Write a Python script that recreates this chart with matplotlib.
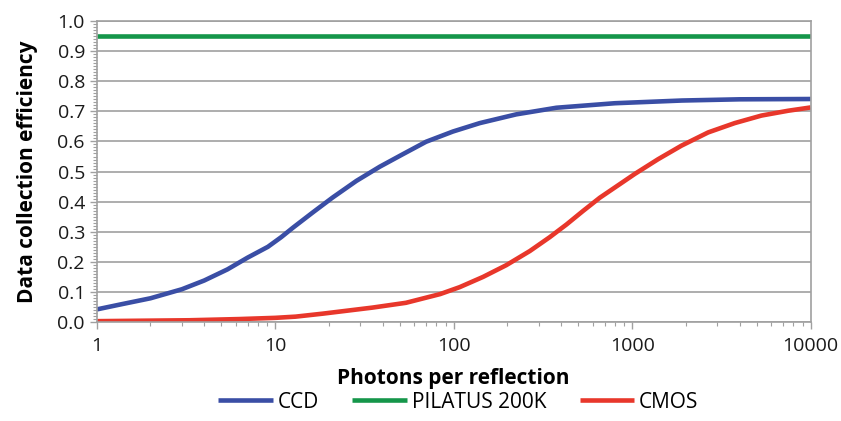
import matplotlib
matplotlib.use("Agg")
import matplotlib.pyplot as plt
from matplotlib.ticker import FixedLocator, MultipleLocator, NullFormatter

plt.rcParams['font.family'] = ['Open Sans', 'DejaVu Sans']

# values
ccd_x = [1, 1.37, 2, 3, 4, 5.4, 7, 9.1, 10.8, 12.6, 16.3, 21, 28.5, 38.5, 52,
         70, 99, 140, 224, 376, 800, 1900, 4000, 10000]
ccd_y = [0.042, 0.059, 0.079, 0.109, 0.138, 0.175, 0.214, 0.250, 0.282, 0.314,
         0.365, 0.414, 0.469, 0.516, 0.558, 0.599, 0.633, 0.661, 0.690, 0.712,
         0.727, 0.736, 0.740, 0.741]

pilatus_x = [1, 10000]
pilatus_y = [0.95, 0.95]

cmos_x = [1, 3.3, 6.3, 10, 13, 18.5, 35, 54, 84, 108, 146, 197, 267, 345, 428,
          530, 658, 851, 1033, 1396, 1887, 2663, 3752, 5296, 7464, 10000]
cmos_y = [0.003, 0.006, 0.010, 0.014, 0.018, 0.028, 0.048, 0.064, 0.093, 0.116,
          0.150, 0.189, 0.236, 0.282, 0.324, 0.369, 0.413, 0.458, 0.492, 0.541,
          0.586, 0.630, 0.661, 0.686, 0.702, 0.713]

x_ticks = [1, 10, 100, 1000, 10000]
x_labels = ['1', '10', '100', '1000', '10000']

fig = plt.figure(figsize=(8.41, 4.21), dpi=100)
ax = fig.add_axes([0.115, 0.235, 0.849, 0.715])

grid_col = '#a0a0a0'
ax.plot(ccd_x, ccd_y, color='#3a4ea5', lw=3.3, label='CCD', solid_capstyle='butt')
ax.plot(pilatus_x, pilatus_y, color='#15964a', lw=3.3, label='PILATUS 200K', solid_capstyle='butt')
ax.plot(cmos_x, cmos_y, color='#e8372b', lw=3.3, label='CMOS', solid_capstyle='butt')

ax.set_xscale('log')
ax.set_xlim(1, 10000)
ax.set_ylim(0, 1.0)
ax.xaxis.set_major_locator(FixedLocator(x_ticks))
ax.set_xticklabels(x_labels)
ax.xaxis.set_minor_formatter(NullFormatter())
ax.yaxis.set_major_locator(MultipleLocator(0.1))
ax.yaxis.set_minor_locator(MultipleLocator(0.01))
ax.set_yticklabels([f'{v:.1f}' for v in ax.get_yticks()])

ax.grid(axis='y', color=grid_col, lw=1.2)
ax.set_axisbelow(True)
for s in ax.spines.values():
    s.set_color(grid_col)
    s.set_linewidth(1.2)

ax.tick_params(axis='both', which='major', colors=grid_col, length=5, width=1, labelsize=14,
               labelcolor='#1a1a1a')
ax.tick_params(axis='both', which='minor', colors=grid_col, length=3, width=0.8)
ax.tick_params(axis='x', pad=6)

ax.set_xlabel('Photons per reflection', fontsize=15, fontweight='bold', labelpad=9)
ax.set_ylabel('Data collection efficiency', fontsize=15, fontweight='bold', labelpad=14)

fig.legend(loc='center', bbox_to_anchor=(0.545, 0.045), ncol=3, frameon=False,
           fontsize=15, handlelength=2.6, handletextpad=0.25, columnspacing=1.6)

fig.savefig('out.png', dpi=100)
